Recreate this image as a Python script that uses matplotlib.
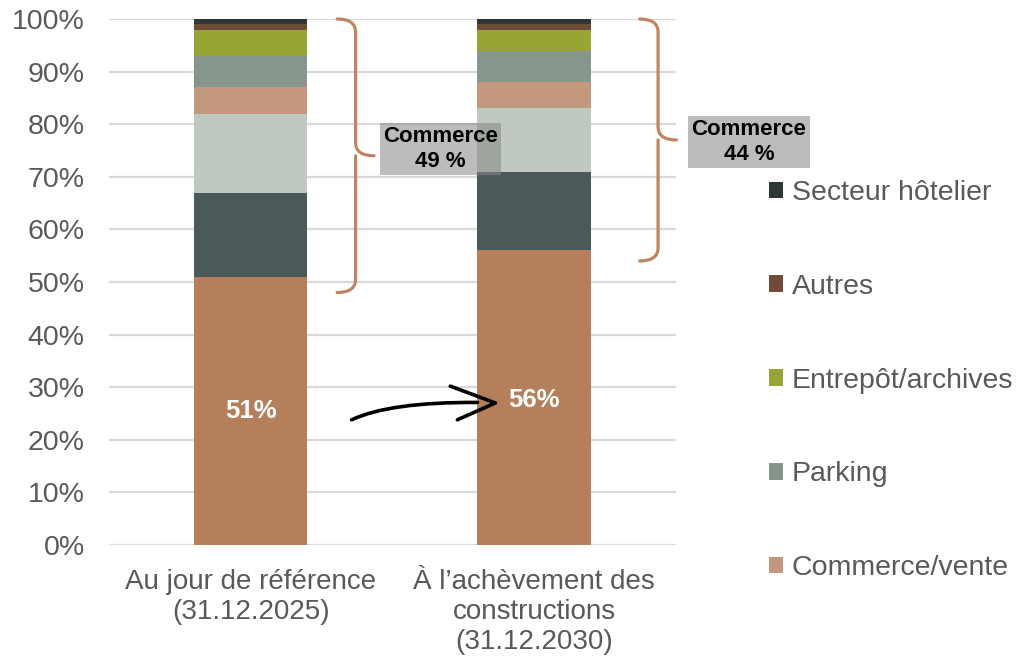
import matplotlib
matplotlib.use("Agg")
import matplotlib.pyplot as plt
from matplotlib.path import Path
from matplotlib.patches import PathPatch, Patch

plt.rcParams['font.family'] = ['Liberation Sans', 'DejaVu Sans']

categories = ["Au jour de référence\n(31.12.2025)",
              "À l’achèvement des\nconstructions\n(31.12.2030)"]

# shares in % per usage, bottom to top
logement = [51, 56]
bureaux = [16, 15]
ateliers = [15, 12]
commerce_vente = [5, 5]
parking = [6, 6]
entrepot = [5, 4]
autres = [1, 1]
hotelier = [1, 1]

commerce_total = [49, 44]
commerce_top = [100, 100]
commerce_bottom = [48, 54]

series = [
    ("Logement", logement, "#B57F5C"),
    ("Bureaux", bureaux, "#4B5A58"),
    ("Ateliers", ateliers, "#BFC9BF"),
    ("Commerce/vente", commerce_vente, "#C4987C"),
    ("Parking", parking, "#87968A"),
    ("Entrepôt/archives", entrepot, "#98A535"),
    ("Autres", autres, "#714B37"),
    ("Secteur hôtelier", hotelier, "#2E3835"),
]
legend_names = ["Secteur hôtelier", "Autres", "Entrepôt/archives",
                "Parking", "Commerce/vente"]

grey = "#595959"
brace_col = "#BF8563"

fig = plt.figure(figsize=(10.18, 6.57), dpi=100)
ax = fig.add_axes([0.107, 0.1705, 0.557, 0.8006])

x = list(range(len(categories)))
bottom = [0, 0]
colors = {}
for name, vals, col in series:
    ax.bar(x, vals, 0.40, bottom=bottom, color=col, zorder=2)
    bottom = [b + v for b, v in zip(bottom, vals)]
    colors[name] = col

# percentage of the bottom segment
label_y = [25.5, 27.6]
for i, v in enumerate(logement):
    ax.text(i, label_y[i], f"{v}%", color="white", fontsize=18.5,
            fontweight="bold", ha="center", va="center", zorder=4)


def brace(x0, ytop, ybot, hook, tip):
    ymid = (ytop + ybot) / 2
    r = 2.5
    verts = [(x0 - hook, ytop), (x0, ytop), (x0, ytop - r),
             (x0, ymid + r), (x0, ymid), (x0 + tip, ymid),
             (x0, ymid), (x0, ymid - r),
             (x0, ybot + r), (x0, ybot), (x0 - hook, ybot)]
    codes = [Path.MOVETO, Path.CURVE3, Path.CURVE3,
             Path.LINETO, Path.CURVE3, Path.CURVE3,
             Path.MOVETO, Path.CURVE3,
             Path.LINETO, Path.CURVE3, Path.CURVE3]
    p = PathPatch(Path(verts, codes), fill=False, edgecolor=brace_col,
                  lw=2.3, capstyle="round", clip_on=False, zorder=3)
    ax.add_patch(p)
    return ymid


brace_x = [0.37, 1.437]
box_pos = [(0.67, 75.3), (1.757, 76.6)]
for i in range(2):
    brace(brace_x[i], commerce_top[i], commerce_bottom[i], 0.065, 0.065)
    bx, by = box_pos[i]
    ax.text(bx, by, f"Commerce\n{commerce_total[i]} %", fontsize=16,
            fontweight="bold", ha="center", va="center", color="black",
            linespacing=1.2, clip_on=False, zorder=5,
            bbox=dict(boxstyle="square,pad=0.15", facecolor="#868686",
                      alpha=0.55, edgecolor="none"))

# hand-drawn arrow between the two bars
arrow = Path([(0.356, 23.8), (0.49, 27.2), (0.80, 27.1),
              (0.704, 30.2), (0.863, 27.0), (0.729, 23.8)],
             [Path.MOVETO, Path.CURVE3, Path.CURVE3,
              Path.MOVETO, Path.LINETO, Path.LINETO])
ax.add_patch(PathPatch(arrow, fill=False, edgecolor="black", lw=2.6,
                       capstyle="round", joinstyle="round", zorder=5))

ax.set_xlim(-0.5, 1.5)
ax.set_ylim(0, 100)
ax.set_yticks(range(0, 101, 10))
ax.set_yticklabels([f"{v}%" for v in range(0, 101, 10)])
ax.set_xticks(x)
ax.set_xticklabels(categories, linespacing=1.2, fontsize=20)
ax.tick_params(axis="y", length=0, labelsize=20.5, labelcolor=grey, pad=17.5)
ax.tick_params(axis="x", length=0, labelcolor=grey, pad=17)
ax.yaxis.grid(True, color="#D9D9D9", lw=1.6, zorder=0)
ax.set_axisbelow(True)
for s in ax.spines.values():
    s.set_visible(False)

handles = [Patch(facecolor=colors[n], edgecolor="none", label=n)
           for n in legend_names]
leg = fig.legend(handles=handles, loc="upper left",
                 bbox_to_anchor=(0.755, 0.726), frameon=False,
                 fontsize=20.5, labelcolor=grey, handlelength=0.52,
                 handleheight=0.52, handletextpad=0.3, labelspacing=2.38,
                 borderpad=0, borderaxespad=0)

fig.savefig("out.png", dpi=100)
